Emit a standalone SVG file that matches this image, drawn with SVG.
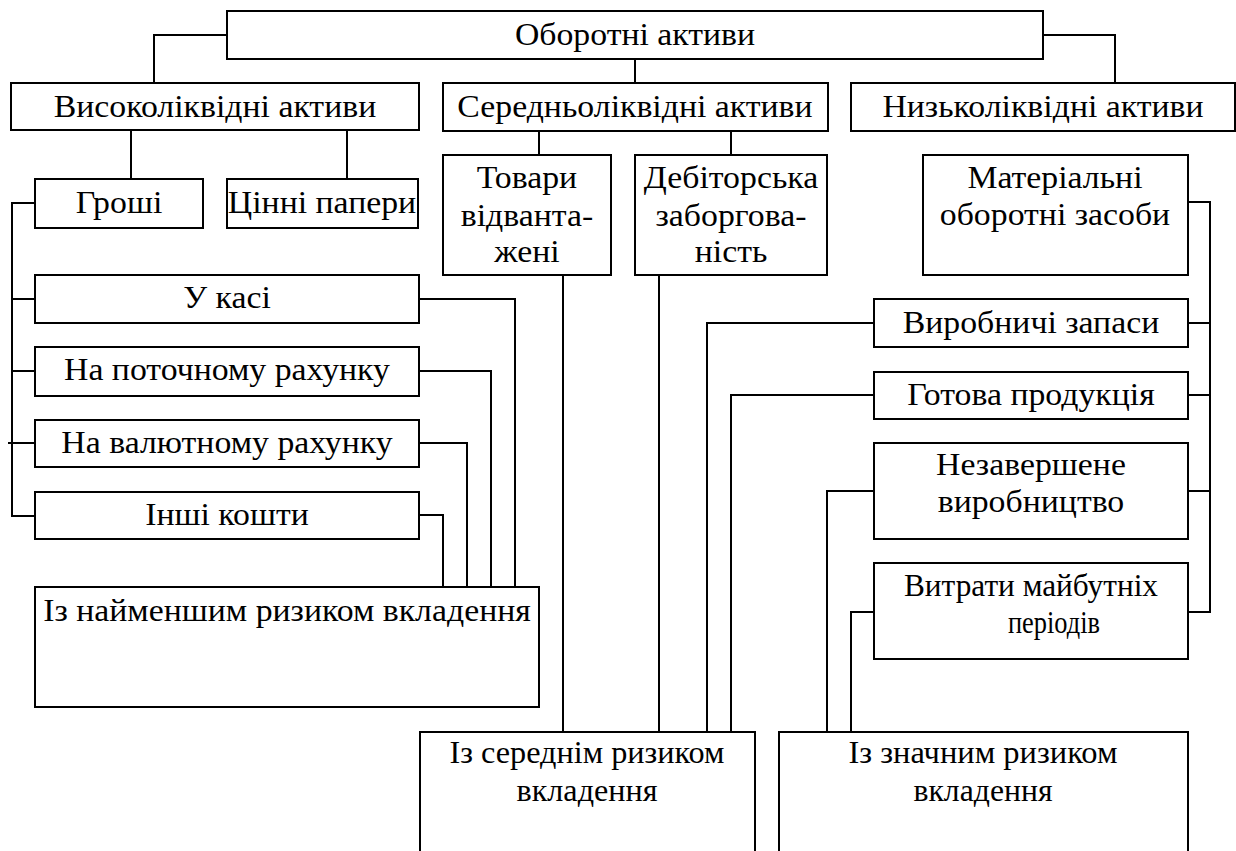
<svg xmlns="http://www.w3.org/2000/svg" width="1236" height="851" viewBox="0 0 1236 851">
<rect x="0" y="0" width="1236" height="851" fill="#fff"/>
<g id="connectors" fill="none" stroke="#000" stroke-width="2">
<path d="M227 35H154V83"/>
<path d="M1043 35H1115V83"/>
<path d="M635 59V83"/>
<path d="M131 130V179"/>
<path d="M347 130V179"/>
<path d="M539 131V155"/>
<path d="M731 131V155"/>
<path d="M35 203H12V516H35"/>
<path d="M12 299H35M12 371H35M8 443H35"/>
<path d="M419 299H515V587"/>
<path d="M419 371H491V587"/>
<path d="M419 443H467V587"/>
<path d="M419 515H443V587"/>
<path d="M563 275V732"/>
<path d="M659 275V732"/>
<path d="M874 323H707V732"/>
<path d="M874 395H731V732"/>
<path d="M874 491H827V732"/>
<path d="M874 612H851V732"/>
<path d="M1188 202H1210V612H1188"/>
<path d="M1188 323H1210M1188 395H1210M1188 491H1210"/>
</g>
<g id="nodes" fill="#fff" stroke="#000" stroke-width="2">
<rect id="b-oborotni" x="227" y="11" width="816" height="48"/>
<rect id="b-vysoko" x="11" y="83" width="408" height="47"/>
<rect id="b-seredno" x="443" y="83" width="385" height="48"/>
<rect id="b-nyzko" x="851" y="83" width="384" height="48"/>
<rect id="b-groshi" x="35" y="179" width="168" height="49"/>
<rect id="b-tsinni" x="227" y="179" width="191" height="49"/>
<rect id="b-tovary" x="443" y="155" width="168" height="120"/>
<rect id="b-debitorska" x="635" y="155" width="192" height="120"/>
<rect id="b-materialni" x="923" y="155" width="265" height="120"/>
<rect id="b-kasa" x="35" y="275" width="384" height="48"/>
<rect id="b-potochnyi" x="35" y="347" width="384" height="49"/>
<rect id="b-valiutnyi" x="35" y="420" width="384" height="47"/>
<rect id="b-inshi" x="35" y="492" width="384" height="47"/>
<rect id="b-vyrobnychi" x="874" y="299" width="314" height="48"/>
<rect id="b-gotova" x="874" y="372" width="314" height="47"/>
<rect id="b-nezaversh" x="874" y="443" width="314" height="96"/>
<rect id="b-vytraty" x="874" y="563" width="314" height="96"/>
<rect id="b-naimenshym" x="35" y="587" width="504" height="120"/>
<rect id="b-serednim" x="420" y="732" width="335" height="130"/>
<rect id="b-znachnym" x="779" y="732" width="409" height="130"/>
</g>
<g id="labels" fill="#000">
<g transform="scale(1.09,1)">
<text font-family="Liberation Serif" style="font-family:'Liberation Serif',serif" font-size="31" text-anchor="middle" x="582.57" y="45">Оборотні активи</text>
<text font-family="Liberation Serif" style="font-family:'Liberation Serif',serif" font-size="31" text-anchor="middle" x="197.25" y="117">Високоліквідні активи</text>
<text font-family="Liberation Serif" style="font-family:'Liberation Serif',serif" font-size="31" text-anchor="middle" x="582.57" y="117">Середньоліквідні активи</text>
<text font-family="Liberation Serif" style="font-family:'Liberation Serif',serif" font-size="31" text-anchor="middle" x="956.88" y="117">Низьколіквідні активи</text>
<text font-family="Liberation Serif" style="font-family:'Liberation Serif',serif" font-size="31" text-anchor="middle" x="109.17" y="213">Гроші</text>
<text font-family="Liberation Serif" style="font-family:'Liberation Serif',serif" font-size="31" text-anchor="middle" x="295.41" y="213">Цінні папери</text>
<text font-family="Liberation Serif" style="font-family:'Liberation Serif',serif" font-size="31" text-anchor="middle" x="483.49" y="188">Товари</text>
<text font-family="Liberation Serif" style="font-family:'Liberation Serif',serif" font-size="31" text-anchor="middle" x="483.49" y="226">відванта-</text>
<text font-family="Liberation Serif" style="font-family:'Liberation Serif',serif" font-size="31" text-anchor="middle" x="483.49" y="262">жені</text>
<text font-family="Liberation Serif" style="font-family:'Liberation Serif',serif" font-size="31" text-anchor="middle" x="670.64" y="188">Дебіторська</text>
<text font-family="Liberation Serif" style="font-family:'Liberation Serif',serif" font-size="31" text-anchor="middle" x="670.64" y="226">заборгова-</text>
<text font-family="Liberation Serif" style="font-family:'Liberation Serif',serif" font-size="31" text-anchor="middle" x="670.64" y="262">ність</text>
<text font-family="Liberation Serif" style="font-family:'Liberation Serif',serif" font-size="31" text-anchor="middle" x="967.89" y="188">Матеріальні</text>
<text font-family="Liberation Serif" style="font-family:'Liberation Serif',serif" font-size="31" text-anchor="middle" x="967.89" y="225">оборотні засоби</text>
<text font-family="Liberation Serif" style="font-family:'Liberation Serif',serif" font-size="31" text-anchor="middle" x="208.26" y="308">У касі</text>
<text font-family="Liberation Serif" style="font-family:'Liberation Serif',serif" font-size="31" text-anchor="middle" x="208.26" y="380">На поточному рахунку</text>
<text font-family="Liberation Serif" style="font-family:'Liberation Serif',serif" font-size="31" text-anchor="middle" x="208.26" y="453">На валютному рахунку</text>
<text font-family="Liberation Serif" style="font-family:'Liberation Serif',serif" font-size="31" text-anchor="middle" x="208.26" y="525">Інші кошти</text>
<text font-family="Liberation Serif" style="font-family:'Liberation Serif',serif" font-size="31" text-anchor="middle" x="945.87" y="333">Виробничі запаси</text>
<text font-family="Liberation Serif" style="font-family:'Liberation Serif',serif" font-size="31" text-anchor="middle" x="945.87" y="405">Готова продукція</text>
<text font-family="Liberation Serif" style="font-family:'Liberation Serif',serif" font-size="31" text-anchor="middle" x="945.87" y="475">Незавершене</text>
<text font-family="Liberation Serif" style="font-family:'Liberation Serif',serif" font-size="31" text-anchor="middle" x="945.87" y="512">виробництво</text>
<text font-family="Liberation Serif" style="font-family:'Liberation Serif',serif" font-size="31" text-anchor="middle" x="263.30" y="621">Із найменшим ризиком вкладення</text>
</g>
<text font-family="Liberation Serif" style="font-family:'Liberation Serif',serif" font-size="31" text-anchor="middle" x="1031" y="596" textLength="254" lengthAdjust="spacingAndGlyphs">Витрати майбутніх</text>
<text font-family="Liberation Serif" style="font-family:'Liberation Serif',serif" font-size="31" text-anchor="middle" x="1054" y="633" textLength="92" lengthAdjust="spacingAndGlyphs">періодів</text>
<text font-family="Liberation Serif" style="font-family:'Liberation Serif',serif" font-size="31" text-anchor="middle" x="587" y="763" textLength="275" lengthAdjust="spacingAndGlyphs">Із середнім ризиком</text>
<text font-family="Liberation Serif" style="font-family:'Liberation Serif',serif" font-size="31" text-anchor="middle" x="587" y="801" textLength="141" lengthAdjust="spacingAndGlyphs">вкладення</text>
<text font-family="Liberation Serif" style="font-family:'Liberation Serif',serif" font-size="31" text-anchor="middle" x="983" y="763" textLength="269" lengthAdjust="spacingAndGlyphs">Із значним ризиком</text>
<text font-family="Liberation Serif" style="font-family:'Liberation Serif',serif" font-size="31" text-anchor="middle" x="983" y="801" textLength="139" lengthAdjust="spacingAndGlyphs">вкладення</text>
</g>
</svg>
